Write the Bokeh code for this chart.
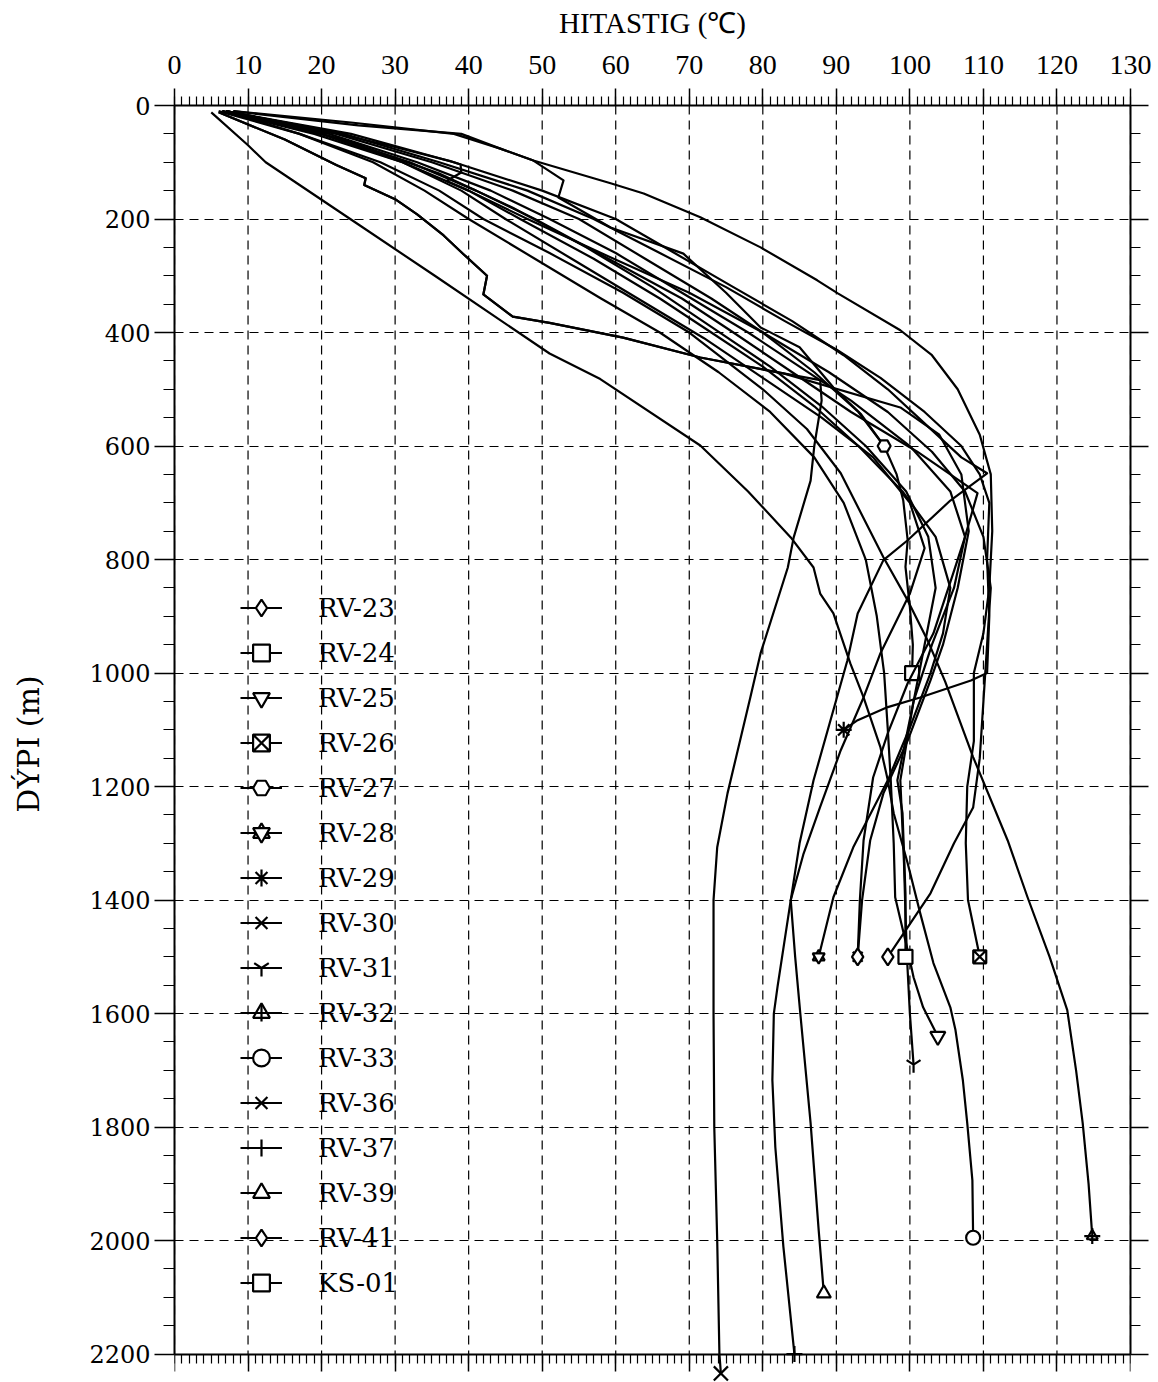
from bokeh.plotting import figure
from bokeh.models import (Range1d, LinearAxis, FixedTicker, Legend, LegendItem,
                          CustomJSTickFormatter)
from bokeh.embed import file_html
from bokeh.resources import INLINE

# ---- axes -------------------------------------------------------------
TEMP_TICKS = list(range(0, 131, 10))
TEMP_MINOR = list(range(0, 131, 1))
DEPTH_TICKS = list(range(0, 2201, 200))
DEPTH_MINOR = list(range(0, 2201, 50))

# ---- temperature logs: depth (m) and temperature (C) -------------------
RV23_D = [10, 40, 70, 98, 104, 118, 133, 150, 200, 260, 330, 400, 470, 540, 610, 680, 760, 850, 950, 1050, 1150, 1237, 1300, 1388, 1500]
RV23_T = [7, 19, 29, 37.5, 38.9, 39, 37, 40, 48, 58, 70, 80, 89, 97, 103, 107.5, 110, 111, 110.5, 110, 109.5, 108.6, 106, 102.8, 97]

RV24_D = [10, 50, 100, 150, 200, 270, 340, 400, 470, 540, 600, 650, 696, 766, 813, 884, 950, 1000]
RV24_T = [7, 22, 35, 46, 55, 64, 73, 80, 87, 93, 96.5, 98.2, 99.1, 99.7, 99.4, 100, 100.4, 100.3]

RV25_D = [10, 50, 100, 150, 200, 270, 340, 400, 470, 540, 620, 700, 800, 900, 1000, 1100, 1189, 1300, 1395, 1494, 1536, 1589, 1640]
RV25_T = [6, 17, 27, 34, 40, 49, 58, 66, 74, 81, 87, 91, 94, 95.5, 96.5, 97, 97.4, 97.8, 98, 99.8, 100.5, 101.8, 103.8]

RV26_D = [10, 35, 50, 76, 97, 137, 155, 197, 250, 308, 331, 396, 440, 500, 580, 650, 750, 850, 930, 1000, 1120, 1200, 1300, 1400, 1500]
RV26_T = [8, 25, 39, 44.3, 48.8, 59.3, 63.8, 71.5, 79.7, 87.4, 90.2, 98.7, 103, 106.5, 109.5, 111, 111.2, 110.8, 110, 108.7, 108.7, 107.8, 107.6, 107.9, 109.5]

RV27_D = [10, 30, 50, 76, 97, 132, 162, 215, 261, 330, 391, 426, 497, 543, 600]
RV27_T = [8, 24, 38, 44.3, 48.8, 52.9, 52.2, 59.3, 69.2, 75, 79.7, 85, 89.6, 93.3, 96.5]

RV28_D = [10, 50, 100, 150, 200, 270, 340, 400, 460, 530, 600, 680, 760, 850, 930, 1000, 1096, 1189, 1307, 1395, 1500]
RV28_T = [6.5, 20, 31, 40, 47, 57, 66, 73, 80, 87, 93, 99, 103.5, 105.5, 104.5, 102.8, 100, 97, 92.3, 89.6, 87.6]

RV29_D = [10, 50, 100, 150, 200, 260, 320, 380, 430, 480, 540, 600, 650, 700, 800, 900, 1000, 1013, 1043, 1060, 1083, 1100]
RV29_T = [7, 23, 36, 48, 57, 66, 75, 83, 90, 96, 102, 107, 109.5, 110.8, 110.5, 110.8, 110.5, 108.3, 101.4, 97, 92.9, 91]

RV30_D = [10, 50, 100, 150, 200, 270, 340, 400, 470, 540, 610, 683, 760, 824, 930, 1018, 1106, 1184, 1295, 1400, 1500]
RV30_T = [6.5, 20, 32, 41, 49, 59, 69, 76, 84, 92, 101, 109.2, 107.5, 105.9, 103.2, 99.7, 97, 95, 93.7, 93.2, 92.9]

RV31_D = [10, 60, 120, 180, 250, 320, 390, 460, 530, 600, 680, 760, 850, 950, 1050, 1189, 1335, 1423, 1500, 1600, 1690]
RV31_T = [7, 23, 36, 46, 56, 65, 73, 81, 88, 94, 99.5, 102.5, 103.5, 102, 100.5, 98.7, 99.2, 99.4, 99.6, 100, 100.5]

RV32_D = [10, 50, 100, 150, 200, 260, 330, 400, 500, 570, 648, 796, 872, 942, 1015, 1148, 1295, 1395, 1500, 1594, 1700, 1793, 1900, 1992]
RV32_T = [7, 17, 28, 36, 42, 51, 61, 70, 80, 86, 90.6, 96.4, 99.7, 102.4, 104.8, 108.6, 113.3, 116, 119, 121.4, 122.6, 123.5, 124.3, 124.8]

RV33_D = [12, 70, 100, 200, 300, 437, 482, 599, 680, 761, 814, 860, 895, 983, 1043, 1131, 1189, 1247, 1335, 1423, 1511, 1589, 1629, 1717, 1793, 1894, 1995]
RV33_T = [5, 10, 12.4, 23.9, 35.4, 51, 57.9, 71.5, 78, 83.8, 86.9, 87.8, 89.6, 91.9, 93.7, 96, 97, 97.8, 99.7, 101.4, 103.2, 105.5, 106.2, 107.2, 107.8, 108.5, 108.6]

RV36_D = [12, 60, 105, 128, 140, 165, 192, 229, 262, 300, 333, 372, 383, 409, 444, 472, 484, 520, 600, 661, 761, 814, 965, 1043, 1212, 1307, 1400, 1600, 1800, 2000, 2200, 2234]
RV36_T = [6, 15, 22, 26, 25.8, 30, 33, 36.6, 39.3, 42.5, 42, 46, 51, 61, 71.5, 82.8, 87.8, 88, 87, 86.5, 84.2, 83.4, 79.7, 78.3, 75.2, 73.8, 73.3, 73.3, 73.4, 73.8, 74.1, 74.3]

RV37_D = [10, 50, 100, 150, 200, 260, 320, 380, 440, 500, 560, 620, 648, 696, 766, 801, 895, 978, 1189, 1300, 1400, 1553, 1600, 1717, 1835, 2011, 2200]
RV37_T = [7, 24, 38, 50, 60, 68, 76, 84, 91, 97, 102, 107, 110.5, 105.5, 99.7, 96.4, 92.9, 91.5, 86.9, 85, 83.8, 82, 81.5, 81.3, 81.7, 82.8, 84.3]

RV39_D = [10, 50, 100, 150, 200, 270, 340, 410, 480, 550, 620, 700, 780, 860, 965, 1043, 1136, 1236, 1320, 1400, 1500, 1600, 1793, 1982, 2093]
RV39_T = [6.5, 19, 31, 39, 45, 54, 63, 72, 80, 88, 95, 100, 102, 100, 96, 93.7, 90.6, 87.8, 85.5, 83.8, 84.4, 85.1, 86.5, 87.6, 88.3]

RV41_D = [12, 60, 105, 128, 140, 165, 192, 229, 262, 300, 333, 372, 383, 409, 444, 472, 532, 580, 650, 750, 850, 950, 1013, 1119, 1212, 1295, 1400, 1500]
RV41_T = [6, 15, 22, 26, 25.8, 30, 33, 36.6, 39.3, 42.5, 42, 46, 51, 61, 71.5, 82.8, 98.7, 104, 107, 108, 106.5, 104.5, 102.8, 99.7, 96.4, 94.6, 93.5, 92.9]

KS01_D = [10, 50, 100, 150, 200, 260, 330, 400, 460, 520, 600, 680, 760, 850, 950, 1050, 1189, 1247, 1388, 1500]
KS01_T = [7, 21, 33, 43, 51, 60, 69, 78, 85, 92, 100, 105.5, 107.5, 106, 103, 100.5, 98.3, 99, 99.4, 99.4]

# well name, depths, temperatures, end-of-log symbols (marker, size)
WELLS = [
    ("RV-23", RV23_D, RV23_T, [("diamond", 17)]),
    ("RV-24", RV24_D, RV24_T, [("square", 14)]),
    ("RV-25", RV25_D, RV25_T, [("inverted_triangle", 15)]),
    ("RV-26", RV26_D, RV26_T, [("square_x", 13)]),
    ("RV-27", RV27_D, RV27_T, [("hex", 13)]),
    ("RV-28", RV28_D, RV28_T, [("triangle", 12), ("inverted_triangle", 12)]),
    ("RV-29", RV29_D, RV29_T, [("asterisk", 16)]),
    ("RV-30", RV30_D, RV30_T, [("x", 14)]),
    ("RV-31", RV31_D, RV31_T, [("y", 16)]),
    ("RV-32", RV32_D, RV32_T, [("triangle", 11), ("cross", 16)]),
    ("RV-33", RV33_D, RV33_T, [("circle", 14)]),
    ("RV-36", RV36_D, RV36_T, [("x", 20)]),
    ("RV-37", RV37_D, RV37_T, [("cross", 16)]),
    ("RV-39", RV39_D, RV39_T, [("triangle", 14)]),
    ("RV-41", RV41_D, RV41_T, [("diamond", 17)]),
    ("KS-01", KS01_D, KS01_T, [("square", 14)]),
]

T_MIN, T_MAX = 0, 130
D_MIN, D_MAX = 0, 2200
# the drawing area runs a little below the deepest axis value so that a
# log ending beneath 2200 m keeps its end symbol
D_LOW = 2250
PX_PER_M = 1249 / (D_MAX - D_MIN)
FRAME_W = 956
FRAME_H = round(PX_PER_M * (D_LOW - D_MIN))

p = figure(frame_width=FRAME_W, frame_height=FRAME_H,
           x_range=Range1d(T_MIN, T_MAX), y_range=Range1d(D_LOW, D_MIN),
           x_axis_location="above", y_axis_location="left",
           output_backend="svg", toolbar_location=None,
           min_border_left=174, min_border_right=28,
           min_border_top=105, min_border_bottom=0,
           background_fill_color="white", border_fill_color="white",
           outline_line_color=None)

TICK_FONT_X = "Liberation Serif"
TICK_FONT_Y = "DejaVu Serif"


def style_axis(ax, major_out, minor_out, major_in=0, minor_in=0):
    ax.axis_line_color = "black"
    ax.axis_line_width = 2
    ax.major_tick_line_color = "black"
    ax.major_tick_line_width = 1.5
    ax.minor_tick_line_color = "black"
    ax.minor_tick_line_width = 1.2
    ax.major_tick_in = major_in
    ax.major_tick_out = major_out
    ax.minor_tick_in = minor_in
    ax.minor_tick_out = minor_out
    ax.major_label_text_color = "black"
    ax.axis_label_text_color = "black"
    ax.axis_label_text_font_style = "normal"


def blank_labels(ax):
    ax.formatter = CustomJSTickFormatter(code="return ''")
    ax.major_label_text_font_size = "1px"
    ax.major_label_standoff = 0


temp_ticker = FixedTicker(ticks=TEMP_TICKS, minor_ticks=TEMP_MINOR)
depth_ticker = FixedTicker(ticks=DEPTH_TICKS, minor_ticks=DEPTH_MINOR)

# top temperature axis
top = p.xaxis[0]
top.ticker = temp_ticker
style_axis(top, 17, 9)
top.axis_label = "HITASTIG (℃)"
top.axis_label_text_font = TICK_FONT_X
top.axis_label_text_font_size = "29px"
top.axis_label_standoff = 14
top.major_label_text_font = TICK_FONT_X
top.major_label_text_font_size = "28px"
top.major_label_standoff = 15

# lower edge at 2200 m: ticks only, pointing downwards
bottom = LinearAxis(ticker=temp_ticker, fixed_location=D_MAX)
style_axis(bottom, 0, 0, major_in=17, minor_in=9)
blank_labels(bottom)
p.add_layout(bottom, "above")

# left depth axis
left = p.yaxis[0]
left.ticker = depth_ticker
left.bounds = (D_MIN, D_MAX)
style_axis(left, 20, 11)
left.axis_label = "DÝPI (m)"
left.axis_label_text_font = TICK_FONT_Y
left.axis_label_text_font_size = "30px"
left.axis_label_standoff = 40
left.major_label_text_font = TICK_FONT_Y
left.major_label_text_font_size = "24px"
left.major_label_standoff = 4

# right ticks only
right = LinearAxis(ticker=depth_ticker, bounds=(D_MIN, D_MAX))
style_axis(right, 18, 10)
blank_labels(right)
p.add_layout(right, "right")

# dashed grid: horizontal lines from the grid model, vertical lines
# limited to the axis depth span
p.xgrid.visible = False
yg = p.ygrid[0]
yg.ticker = FixedTicker(ticks=DEPTH_TICKS)
yg.grid_line_color = "black"
yg.grid_line_width = 1.2
yg.grid_line_dash = "9 6"
p.segment(x0=TEMP_TICKS, y0=[D_MIN] * len(TEMP_TICKS),
          x1=TEMP_TICKS, y1=[D_MAX] * len(TEMP_TICKS),
          line_color="black", line_width=1.2, line_dash="9 6")

items = []
for name, depth, temp, symbols in WELLS:
    line_r = p.line(temp, depth, line_color="black", line_width=2.2,
                    line_join="round")
    rends = [line_r]
    for marker, size in symbols:
        r = p.scatter([temp[-1]], [depth[-1]], marker=marker, size=size,
                      line_color="black", line_width=2.2, fill_color="white")
        rends.append(r)
    items.append(LegendItem(label=name, renderers=rends))

legend_bottom = 49 + round(PX_PER_M * (D_LOW - D_MAX))
legend = Legend(items=items, location=(66, legend_bottom),
                orientation="vertical", padding=0, margin=0, spacing=0,
                glyph_width=42, glyph_height=45, label_height=45,
                label_standoff=36, label_text_font="DejaVu Serif",
                label_text_font_size="26px", label_text_color="black",
                border_line_color=None, background_fill_alpha=0)
p.add_layout(legend)

open("out.html", "w").write(file_html(p, INLINE))
